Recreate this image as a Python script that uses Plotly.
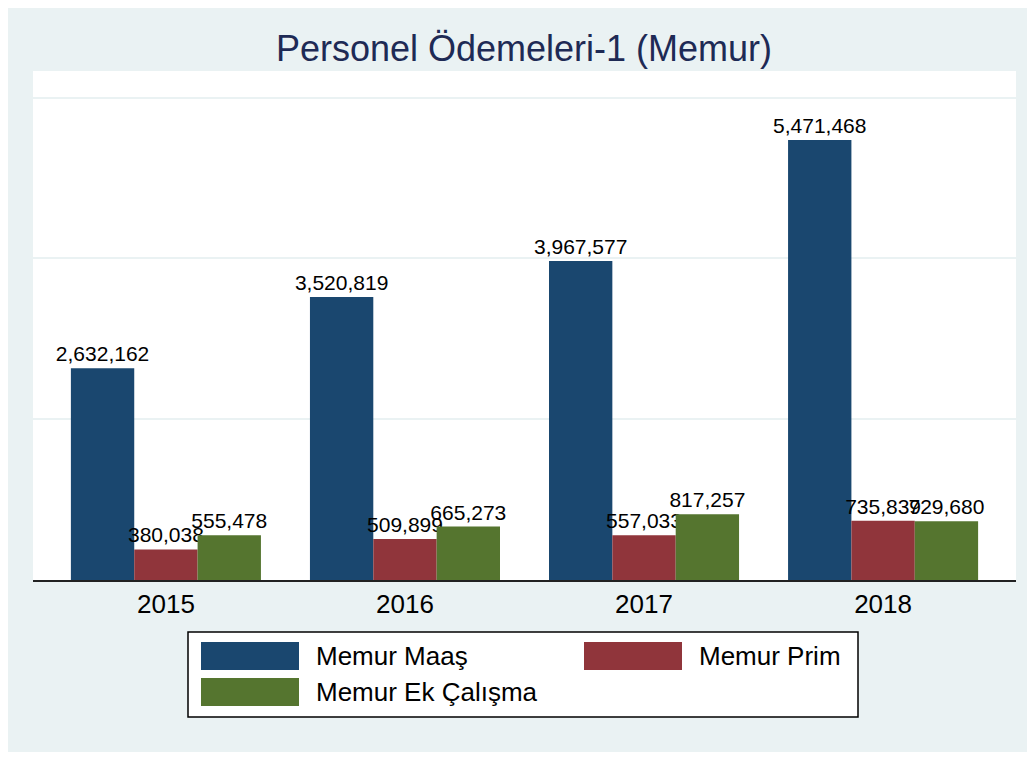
#!/usr/bin/env python3
"""
Personel Odemeleri-1 (Memur) - grouped bar chart
"""

import plotly.graph_objects as go

# Data
years = ["2015", "2016", "2017", "2018"]
series_names = ["Memur Maaş", "Memur Prim", "Memur Ek Çalışma"]
maas = [2632162, 3520819, 3967577, 5471468]
prim = [380038, 509899, 557033, 735839]
ek_calisma = [555478, 665273, 817257, 729680]
series_values = [maas, prim, ek_calisma]
colors = ["#1a476f", "#90353b", "#55752f"]

# Page geometry (pixels). The browser adds an 8px body margin,
# so the figure is 8px smaller and all page coordinates are shifted.
OFF = 8
W, H = 1035 - OFF, 757 - OFF
L, R, T, B = 33 - OFF, 1016 - OFF, 71 - OFF, 580 - OFF
FONT = "Liberation Sans, Arial, Helvetica, sans-serif"


def px_x(x):
    # page pixel -> paper coordinate
    return (x - OFF - L) / (R - L)


def px_y(y):
    return (B - (y - OFF)) / (B - T)


fig = go.Figure()

for name, vals, col in zip(series_names, series_values, colors):
    fig.add_trace(go.Bar(
        x=years,
        y=vals,
        name=name,
        marker=dict(color=col, line=dict(width=0)),
        text=[f"{v:,}" for v in vals],
        textposition="outside",
        constraintext="none",
        cliponaxis=False,
        textfont=dict(family=FONT, size=21, color="#000000"),
        showlegend=False,
    ))

fig.update_layout(
    width=W,
    height=H,
    barmode="group",
    bargap=0.205,
    bargroupgap=0,
    paper_bgcolor="#eaf2f3",
    plot_bgcolor="#ffffff",
    margin=dict(l=L, r=W - R, t=T, b=H - B, pad=0),
    title=dict(
        text="Personel Ödemeleri-1 (Memur)",
        x=(524 - OFF) / W, xanchor="center",
        y=1 - (48 - OFF) / H, yanchor="middle",
        font=dict(family=FONT, size=36, color="#1e2a55"),
    ),
    font=dict(family=FONT, color="#000000"),
    showlegend=False,
)

fig.update_xaxes(
    type="category",
    range=[-0.556, 3.556],
    showline=True, linecolor="#222222", linewidth=2,
    showgrid=False, ticks="",
    tickfont=dict(family=FONT, size=26, color="#000000"),
    ticklabelstandoff=0,
)

fig.update_yaxes(
    range=[0, 6330000],
    tickvals=[2000000, 4000000, 6000000],
    showticklabels=False,
    showgrid=True, gridcolor="#eaf2f3", gridwidth=2,
    zeroline=False, showline=False, ticks="",
)

# White strip at the bottom of the exported graph region
fig.add_shape(type="rect", xref="paper", yref="paper",
              x0=px_x(OFF), x1=px_x(1035), y0=px_y(757), y1=px_y(752),
              fillcolor="#ffffff", line=dict(width=0), layer="below")

# Custom legend (Stata style, large swatches)
fig.add_shape(type="rect", xref="paper", yref="paper",
              x0=px_x(188), x1=px_x(858), y0=px_y(717), y1=px_y(632),
              fillcolor="#ffffff", line=dict(color="#000000", width=1.5))

legend_slots = [(201, 642), (584, 642), (201, 678)]
for (sx, sy), name, col in zip(legend_slots, series_names, colors):
    fig.add_shape(type="rect", xref="paper", yref="paper",
                  x0=px_x(sx), x1=px_x(sx + 98), y0=px_y(sy + 28), y1=px_y(sy),
                  fillcolor=col, line=dict(width=0))
    fig.add_annotation(
        xref="paper", yref="paper",
        x=px_x(sx + 113), y=px_y(sy + 14),
        xanchor="left", yanchor="middle",
        text=name, showarrow=False,
        font=dict(family=FONT, size=26, color="#000000"),
    )

fig.write_html("out.html")
